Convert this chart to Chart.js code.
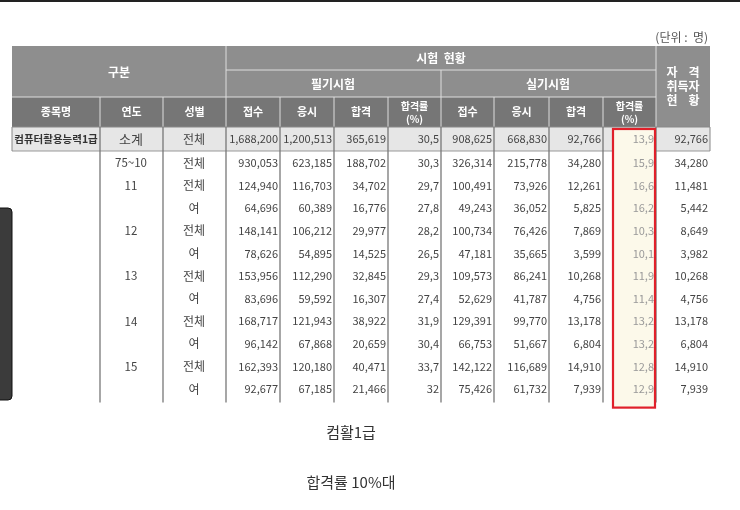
<!DOCTYPE html>
<html>
<head>
<meta charset="utf-8">
<script src="https://cdn.jsdelivr.net/npm/chart.js@4"></script>
<style>
  html, body { margin: 0; padding: 0; background: #fff; }
  canvas { display: block; }
</style>
</head>
<body>
<canvas id="tbl" width="740" height="510"></canvas>
<script>
// table data
const itemNames = ["컴퓨터활용능력1급", "", "", "", "", "", "", "", "", "", "", ""];
const years = ["소계", "75~10", "11", "", "12", "", "13", "", "14", "", "15", ""];
const genders = ["전체", "전체", "전체", "여", "전체", "여", "전체", "여", "전체", "여", "전체", "여"];
const writtenApplied = [1688200, 930053, 124940, 64696, 148141, 78626, 153956, 83696, 168717, 96142, 162393, 92677];
const writtenTaken = [1200513, 623185, 116703, 60389, 106212, 54895, 112290, 59592, 121943, 67868, 120180, 67185];
const writtenPassed = [365619, 188702, 34702, 16776, 29977, 14525, 32845, 16307, 38922, 20659, 40471, 21466];
const writtenRate = [30.5, 30.3, 29.7, 27.8, 28.2, 26.5, 29.3, 27.4, 31.9, 30.4, 33.7, 32];
const practicalApplied = [908625, 326314, 100491, 49243, 100734, 47181, 109573, 52629, 129391, 66753, 142122, 75426];
const practicalTaken = [668830, 215778, 73926, 36052, 76426, 35665, 86241, 41787, 99770, 51667, 116689, 61732];
const practicalPassed = [92766, 34280, 12261, 5825, 7869, 3599, 10268, 4756, 13178, 6804, 14910, 7939];
const practicalRate = [13.9, 15.9, 16.6, 16.2, 10.3, 10.1, 11.9, 11.4, 13.2, 13.2, 12.8, 12.9];
const certified = [92766, 34280, 11481, 5442, 8649, 3982, 10268, 4756, 13178, 6804, 14910, 7939];
const columnNames = ["종목명", "연도", "성별", "접수", "응시", "합격", "합격률\n(%)", "접수", "응시", "합격", "합격률\n(%)"];

// layout
const colEdges = [12, 100, 163, 226, 280, 334, 388, 441, 494, 549, 603, 656, 710];
const rowH = 22.6;
const FONT = '"Noto Sans CJK KR", "Noto Sans", sans-serif';

const fmtNum = v => v.toLocaleString("en-US");
const fmtRate = v => String(v).replace(".", ",");

const tablePlugin = {
  id: "tablePlugin",
  afterDraw(chart) {
    const ctx = chart.ctx;
    const sx = v => chart.scales.x.getPixelForValue(v);
    const sy = v => chart.scales.y.getPixelForValue(v);
    const rect = (x0, y0, x1, y1, fill) => {
      ctx.fillStyle = fill;
      ctx.fillRect(sx(x0), sy(y0), sx(x1) - sx(x0), sy(y1) - sy(y0));
    };
    const text = (t, x, y, opts) => {
      ctx.font = (opts.weight || "normal") + " " + (opts.size || 12) + "px " + FONT;
      ctx.fillStyle = opts.color || "#444";
      ctx.textAlign = opts.align || "center";
      ctx.textBaseline = "middle";
      if (opts.max) ctx.fillText(t, sx(x), sy(y), opts.max);
      else ctx.fillText(t, sx(x), sy(y));
    };
    const line = (x0, y0, x1, y1, color, w) => {
      ctx.strokeStyle = color; ctx.lineWidth = w;
      ctx.beginPath(); ctx.moveTo(sx(x0), sy(y0)); ctx.lineTo(sx(x1), sy(y1)); ctx.stroke();
    };

    // page decorations
    rect(0, 0, 740, 2, "#222");
    ctx.fillStyle = "#3b3b3b";
    ctx.beginPath(); ctx.roundRect(sx(-6), sy(208), 18, 192, 4); ctx.fill();
    ctx.strokeStyle = "#111"; ctx.lineWidth = 1; ctx.stroke();

    text("(단위 :  명)", 708, 37, { align: "right", size: 12, color: "#555" });

    // header
    rect(12, 46, 710, 97, "#8e8e8e");
    rect(12, 97, 710, 127, "#767676");
    rect(656, 46, 710, 127, "#8e8e8e");
    const hw = { color: "#fff", weight: "bold", size: 12 };
    text("구분", 119, 72, hw);
    text("시험  현황", 441, 58, hw);
    text("필기시험", 333, 84, hw);
    text("실기시험", 548, 84, hw);
    text("자    격", 683, 72, hw);
    text("취득자", 683, 86, hw);
    text("현    황", 683, 100, hw);
    columnNames.forEach((n, i) => {
      const cx = (colEdges[i] + colEdges[i + 1]) / 2;
      const parts = n.split("\n");
      if (parts.length === 1) text(n, cx, 112, { ...hw, size: 11 });
      else { text(parts[0], cx, 106, { ...hw, size: 10 }); text(parts[1], cx, 119, { ...hw, size: 10 }); }
    });
    line(226, 70, 656, 70, "#ddd", 1);
    line(12, 97, 656, 97, "#ddd", 1);
    line(226, 46, 226, 127, "#ddd", 1);
    line(441, 70, 441, 127, "#ddd", 1);
    line(656, 46, 656, 127, "#ddd", 1);
    for (let i = 1; i < 11; i++) if (i !== 3 && i !== 7) line(colEdges[i], 97, colEdges[i], 127, "#ddd", 1);

    // rows
    const bottom = 151 + (genders.length - 1) * rowH;
    rect(12, 127, 710, 151, "#e6e6e6");
    line(12, 127, 710, 127, "#888", 1);
    line(12, 151, 710, 151, "#999", 1);
    rect(612, 128, 655, bottom + 8, "#fcf9ea");
    for (let i = 1; i < colEdges.length - 1; i++) {
      line(colEdges[i], 127, colEdges[i], bottom + 3, "#777", 1.3);
    }
    line(12, 127, 12, 151, "#888", 1);
    line(710, 127, 710, 151, "#888", 1);

    const numCols = [writtenApplied, writtenTaken, writtenPassed, writtenRate,
      practicalApplied, practicalTaken, practicalPassed, practicalRate, certified];
    genders.forEach((g, r) => {
      const cy = r === 0 ? 139 : 163 + (r - 1) * rowH;
      if (itemNames[r]) text(itemNames[r], 56, cy, { size: 10.5, weight: "bold", max: 84, color: "#333" });
      if (years[r]) text(years[r], 131, cy, { size: r === 0 ? 13 : 11.5 });
      text(g, 194, cy, { size: 12 });
      numCols.forEach((col, c) => {
        const isRate = c === 3 || c === 7;
        const s = isRate ? fmtRate(col[r]) : fmtNum(col[r]);
        const right = colEdges[c + 4] - 2;
        const w = colEdges[c + 4] - colEdges[c + 3] - 3;
        text(s, right, cy, {
          align: "right", size: 11, max: w,
          color: c === 7 ? "#9a9a9a" : "#444"
        });
      });
    });

    // red highlight
    ctx.strokeStyle = "#e0202a"; ctx.lineWidth = 2.2;
    ctx.strokeRect(sx(613), sy(129), sx(655) - sx(613), sy(bottom + 8) - sy(129));

    // captions
    text("컴활1급", 351, 432, { size: 15, color: "#333" });
    text("합격률 10%대", 351, 482, { size: 15, color: "#333" });
  }
};

new Chart(document.getElementById("tbl"), {
  type: "scatter",
  data: { datasets: [{ data: [], pointRadius: 0 }] },
  options: {
    responsive: false,
    animation: false,
    layout: { padding: 0 },
    plugins: { legend: { display: false }, tooltip: { enabled: false } },
    scales: {
      x: { type: "linear", min: 0, max: 740, display: false },
      y: { type: "linear", min: 0, max: 510, reverse: true, display: false }
    }
  },
  plugins: [tablePlugin]
});
</script>
</body>
</html>
